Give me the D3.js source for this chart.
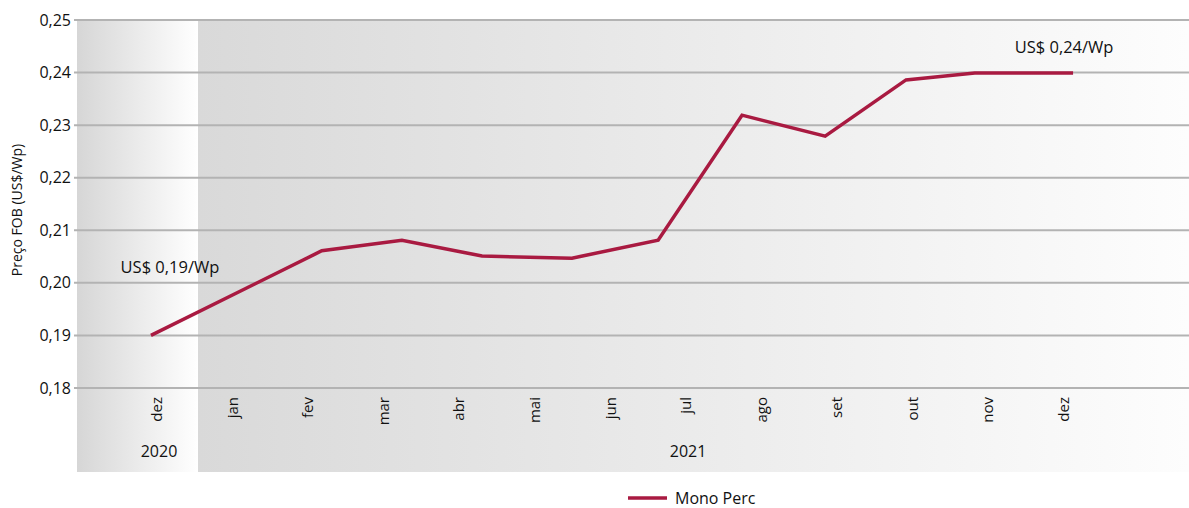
<!doctype html>
<html>
<head>
  <meta charset="utf-8">
  <title>Preço FOB Mono Perc</title>
  <script src="https://d3js.org/d3.v7.min.js"></script>
  <style>
  html, body { margin: 0; padding: 0; background: #fff; }
  svg { display: block; font-family: "Open Sans", sans-serif; }
  </style>
</head>
<body>
  <div id="vis"></div>
  <script>
  var width = 1189;
  var height = 508;

  // rótulos do eixo x (dez/2020 .. dez/2021)
  var meses = ['dez', 'jan', 'fev', 'mar', 'abr', 'mai', 'jun', 'jul', 'ago', 'set', 'out', 'nov', 'dez'];
  var anos = [{ ano: '2020', mes: 0 }, { ano: '2021', mes: 7 }];
  var yTicks = [0.18, 0.19, 0.20, 0.21, 0.22, 0.23, 0.24, 0.25];

  // série Mono Perc: posição em meses (0 = dez/2020) e preço US$/Wp
  var pontoMes = [-0.08, 2.18, 3.24, 4.30, 5.49, 6.63, 7.74, 8.84, 9.91, 10.82, 12.12];
  var preco = [0.190, 0.2061, 0.2081, 0.2051, 0.2047, 0.2081, 0.2319, 0.2279, 0.2386, 0.2399, 0.2399];

  var plot = { left: 77, right: 1189, top: 20, bottom: 472, split: 198 };

  var svg = d3.select('#vis').append('svg')
    .attr('width', width)
    .attr('height', height);

  var x = d3.scaleLinear().domain([0, 12]).range([157, 1064]);
  var y = d3.scaleLinear().domain([0.18, 0.25]).range([388, 20]);

  var defs = svg.append('defs');
  function grad(id, from, to){
    var g = defs.append('linearGradient').attr('id', id)
      .attr('x1', '0%').attr('x2', '100%').attr('y1', '0%').attr('y2', '0%');
    g.append('stop').attr('offset', '0%').attr('stop-color', from);
    g.append('stop').attr('offset', '100%').attr('stop-color', to);
  }
  grad('g2020', '#d6d6d6', '#ffffff');
  grad('g2021', '#d9d9d9', '#fdfdfd');

  svg.append('rect')
    .attr('x', plot.left).attr('y', plot.top)
    .attr('width', plot.split - plot.left).attr('height', plot.bottom - plot.top)
    .attr('fill', 'url(#g2020)');
  svg.append('rect')
    .attr('x', plot.split).attr('y', plot.top)
    .attr('width', plot.right - plot.split).attr('height', plot.bottom - plot.top)
    .attr('fill', 'url(#g2021)');

  // grade horizontal
  svg.selectAll('line.grid').data(yTicks)
    .enter().append('line')
      .attr('class', 'grid')
      .attr('x1', 74).attr('x2', plot.right)
      .attr('y1', function(d){ return y(d); })
      .attr('y2', function(d){ return y(d); })
      .attr('stroke', '#b3b3b3')
      .attr('stroke-width', 2);

  var fmt = function(d){ return d3.format('.2f')(d).replace('.', ','); };
  var ink = '#111111';

  svg.selectAll('text.ytick').data(yTicks)
    .enter().append('text')
      .attr('class', 'ytick')
      .attr('x', 71)
      .attr('y', function(d){ return y(d); })
      .attr('dy', '0.35em')
      .attr('text-anchor', 'end')
      .attr('font-size', 16)
      .attr('fill', ink)
      .text(fmt);

  svg.append('text')
    .attr('transform', 'translate(22,210) rotate(-90)')
    .attr('text-anchor', 'middle')
    .attr('font-size', 14)
    .attr('fill', ink)
    .text('Preço FOB (US$/Wp)');

  // meses
  svg.selectAll('text.mes').data(meses)
    .enter().append('text')
      .attr('class', 'mes')
      .attr('transform', function(d, i){ return 'translate(' + (x(i) + 5) + ',397) rotate(-90)'; })
      .attr('text-anchor', 'end')
      .attr('font-size', 15)
      .attr('fill', ink)
      .text(function(d){ return d; });

  svg.selectAll('text.ano').data(anos)
    .enter().append('text')
      .attr('class', 'ano')
      .attr('x', function(d){ return x(d.mes) + 2; })
      .attr('y', 457)
      .attr('text-anchor', 'middle')
      .attr('font-size', 16)
      .attr('fill', ink)
      .text(function(d){ return d.ano; });

  var serie = pontoMes.map(function(m, i){ return { m: m, v: preco[i] }; });
  var cor = '#a91a41';

  svg.append('path')
    .datum(serie)
    .attr('fill', 'none')
    .attr('stroke', cor)
    .attr('stroke-width', 3.5)
    .attr('stroke-linejoin', 'miter')
    .attr('d', d3.line().x(function(d){ return x(d.m); }).y(function(d){ return y(d.v); }));

  // anotações
  var first = serie[0], last = serie[serie.length - 1];
  svg.append('text')
    .attr('x', x(first.m) + 19).attr('y', y(first.v) - 62)
    .attr('text-anchor', 'middle')
    .attr('font-size', 16.5)
    .attr('fill', ink)
    .text('US$ 0,19/Wp');
  svg.append('text')
    .attr('x', x(last.m) - 9).attr('y', y(last.v) - 20)
    .attr('text-anchor', 'middle')
    .attr('font-size', 16.5)
    .attr('fill', ink)
    .text('US$ 0,24/Wp');

  // legenda
  var leg = svg.append('g').attr('transform', 'translate(628,498)');
  leg.append('line').attr('x1', 0).attr('x2', 39).attr('stroke', cor).attr('stroke-width', 3.5);
  leg.append('text').attr('x', 47).attr('dy', '0.35em')
    .attr('font-size', 16).attr('fill', ink).text('Mono Perc');
  </script>
</body>
</html>
